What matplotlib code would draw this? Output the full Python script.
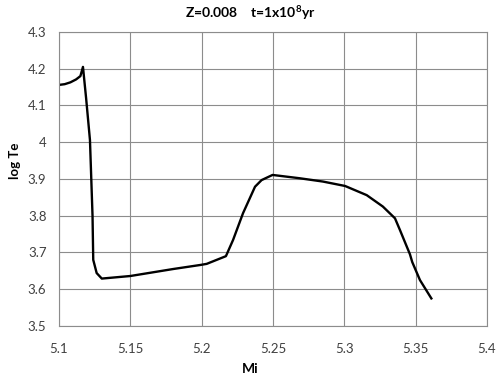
import matplotlib
matplotlib.use('Agg')
import matplotlib.pyplot as plt

# isochrone track
mi = [5.100, 5.104, 5.108, 5.112, 5.115, 5.1168, 5.1190, 5.1217, 5.1235,
      5.1240, 5.1264, 5.1300, 5.1500, 5.1800, 5.1990, 5.2035, 5.2170, 5.2220,
      5.2290, 5.2374, 5.2420, 5.2497, 5.2687, 5.2850, 5.3005, 5.3157, 5.3270,
      5.3355, 5.3390, 5.3460, 5.3476, 5.3530, 5.3610]
log_te = [4.156, 4.158, 4.163, 4.171, 4.180, 4.205, 4.120, 4.006, 3.800,
          3.680, 3.644, 3.629, 3.636, 3.655, 3.666, 3.669, 3.690, 3.734,
          3.807, 3.879, 3.897, 3.911, 3.902, 3.893, 3.881, 3.856, 3.825,
          3.793, 3.761, 3.695, 3.674, 3.625, 3.575]

xticks = [5.1, 5.15, 5.2, 5.25, 5.3, 5.35, 5.4]
yticks = [3.5, 3.6, 3.7, 3.8, 3.9, 4.0, 4.1, 4.2, 4.3]
xtick_labels = ['5.1', '5.15', '5.2', '5.25', '5.3', '5.35', '5.4']
ytick_labels = ['3.5', '3.6', '3.7', '3.8', '3.9', '4', '4.1', '4.2', '4.3']

plt.rcParams['font.family'] = ['Lato', 'DejaVu Sans']
plt.rcParams['mathtext.fontset'] = 'custom'
plt.rcParams['mathtext.rm'] = 'Lato:bold'
plt.rcParams['mathtext.bf'] = 'Lato:bold'

fig = plt.figure(figsize=(5, 3.75), dpi=100, facecolor='w')
ax = fig.add_axes([0.118, 0.1307, 0.856, 0.784])

ax.plot(mi, log_te, color='black', lw=1.7, solid_joinstyle='round')

ax.set_xlim(5.1, 5.4)
ax.set_ylim(3.5, 4.3)
ax.set_xticks(xticks)
ax.set_xticklabels(xtick_labels)
ax.set_yticks(yticks)
ax.set_yticklabels(ytick_labels)
ax.grid(True, color='#8c8c8c', lw=0.8)
ax.set_axisbelow(True)
for s in ax.spines.values():
    s.set_color('#8c8c8c')
    s.set_linewidth(0.8)
ax.tick_params(axis='x', length=0, labelsize=9.5, colors='#404040', pad=12)
ax.tick_params(axis='y', length=0, labelsize=9.5, colors='#404040', pad=9)

fig.text(0.5, 0.965, 'Z=0.008    t=1x10$^{\\mathrm{8}}$yr', ha='center', va='center',
         fontsize=10, fontweight='bold')
fig.text(0.5, 0.015, 'Mi', ha='center', va='center', fontsize=10, fontweight='bold')
fig.text(0.03, 0.57, 'log Te', ha='center', va='center', rotation=90,
         fontsize=9.5, fontweight='bold')

plt.savefig('out.png', dpi=100)
plt.close()
